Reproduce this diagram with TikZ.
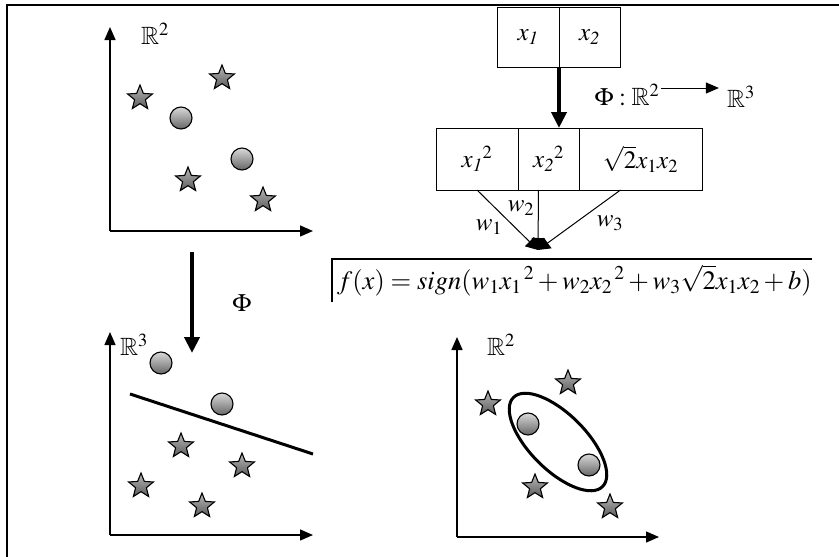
\documentclass[tikz,border=0pt]{standalone}
\usepackage{amssymb}
\usepackage{mathptmx}
\usetikzlibrary{positioning, shapes.geometric, arrows.meta}

\tikzset{
  ptstar/.style={star, star points=5, star point ratio=2.3, minimum size=26pt, inner sep=0pt,
    draw, line width=1.1pt, top color=gray!55, bottom color=gray!70!black},
  ptball/.style={circle, minimum size=22pt, inner sep=0pt, draw, line width=1.1pt,
    top color=gray!30, bottom color=gray!80!black},
  axis/.style={line width=1.4pt, -{Triangle[length=13pt,width=11pt]}},
  bigarrow/.style={line width=4pt, -{Triangle[length=16pt,width=15pt]}},
  cell/.style={draw, line width=1pt, inner sep=0pt, outer sep=0pt, font=\fontsize{25}{30}\selectfont},
  lbl/.style={font=\fontsize{25}{30}\selectfont, inner sep=1pt},
}

\begin{document}
\begin{tikzpicture}[x=1pt, y=-1pt]
    \useasboundingbox (0,0) rectangle (839,557);

    % Frame
    \draw[line width=2pt] (7,557) -- (7,5) -- (839,5);

    % Input space (top left)
    \coordinate (o1) at (110,231);
    \coordinate (o1y) at (110,27);
    \coordinate (o1x) at (313,231);
    \draw[axis] (o1) -- (o1y);
    \draw[axis] (o1) -- (o1x);
    \node[lbl] (r1) at (155,34) {$\mathbb{R}^2$};
    \node[ptstar] (s11) at (140,98) {};
    \node[ptstar] (s12) at (222,78) {};
    \node[ptstar] (s13) at (188,180) {};
    \node[ptstar] (s14) at (263,200) {};
    \node[ptball] (c11) at (181,118) {};
    \node[ptball] (c12) at (242,159) {};

    % Mapping arrow
    \coordinate (phitop) at (192,252);
    \coordinate (phibot) at (192,353);
    \draw[bigarrow] (phitop) -- (phibot);
    \node[lbl] (phi) at (242,303) {$\Phi$};

    % Feature space (bottom left)
    \coordinate (o2) at (110,535);
    \coordinate (o2y) at (110,332);
    \coordinate (o2x) at (313,535);
    \draw[axis] (o2) -- (o2y);
    \draw[axis] (o2) -- (o2x);
    \node[lbl] (r2) at (134,345) {$\mathbb{R}^3$};
    \node[ptball] (c21) at (161,363) {};
    \node[ptball] (c22) at (222,404) {};
    \coordinate (h1) at (130,394);
    \coordinate (h2) at (313,454);
    \draw[line width=3pt] (h1) -- (h2);
    \node[ptstar] (s21) at (181,446) {};
    \node[ptstar] (s22) at (242,466) {};
    \node[ptstar] (s23) at (141,486) {};
    \node[ptstar] (s24) at (202,506) {};

    % Input space again (bottom right)
    \coordinate (o3) at (457,537);
    \coordinate (o3y) at (457,337);
    \coordinate (o3x) at (659,537);
    \draw[axis] (o3) -- (o3y);
    \draw[axis] (o3) -- (o3x);
    \node[lbl] (r3) at (501,345) {$\mathbb{R}^2$};
    \draw[line width=3pt, rotate around={-45:(558,442)}] (558,442) ellipse (63 and 28);
    \node[ptball] (c31) at (528,424) {};
    \node[ptball] (c32) at (589,465) {};
    \node[ptstar] (s31) at (568,383) {};
    \node[ptstar] (s32) at (488,404) {};
    \node[ptstar] (s33) at (535,487) {};
    \node[ptstar] (s34) at (610,507) {};

    % Input cells
    \node[cell, minimum width=62pt, minimum height=60pt] (xa) at (528,37) {$x_{\mathit{1}}$};
    \node[cell, minimum width=61pt, minimum height=60pt, right=0pt of xa] (xb) {$x_{\mathit{2}}$};

    % Feature cells
    \node[cell, minimum width=82pt, minimum height=62pt] (sa) at (477,159) {$x_{\mathit{1}}{}^{2}$};
    \node[cell, minimum width=61pt, minimum height=62pt, right=0pt of sa] (sb) {$x_{\mathit{2}}{}^{2}$};
    \node[cell, minimum width=123pt, minimum height=62pt, right=0pt of sb] (sc) {$\sqrt{2}x_1x_2$};
    \draw[bigarrow] (xa.south east) -- (xa.south east |- sb.north);

    % Map label
    \node[lbl] (phimap) at (627,95) {$\Phi:\mathbb{R}^2$};
    \node[lbl] (rthree) at (741,97) {$\mathbb{R}^3$};
    \draw[line width=1pt, -{Triangle[length=13pt,width=11pt]}, shorten >=7pt]
      ([yshift=7pt]phimap.east) -- ([yshift=9pt]rthree.west);

    % Weights
    \coordinate (sum) at (538,250);
    \draw[line width=1pt, -{Triangle[length=12pt,width=13pt]}] (sa.south) -- (sum);
    \draw[line width=1pt, -{Triangle[length=12pt,width=13pt]}] ([xshift=-10pt]sb.south) -- (sum);
    \draw[line width=1pt, -{Triangle[length=12pt,width=13pt]}] ([xshift=-20pt]sc.south) -- (sum);
    \node[lbl] (w1) at (489,227) {$w_1$};
    \node[lbl] (w2) at (521,208) {$w_2$};
    \node[lbl] (w3) at (610,223) {$w_3$};

    % Decision function
    \draw[line width=1.5pt] (332,302) -- (332,259) -- (812,259);
    \node[lbl, font=\fontsize{26.5}{31}\selectfont, anchor=base west] (fx) at (336,289)
      {$f(x)=sign(w_1x_1{}^{\,2}+w_2x_2{}^{\,2}+w_3\sqrt{2}x_1x_2+b)$};
\end{tikzpicture}
\end{document}
